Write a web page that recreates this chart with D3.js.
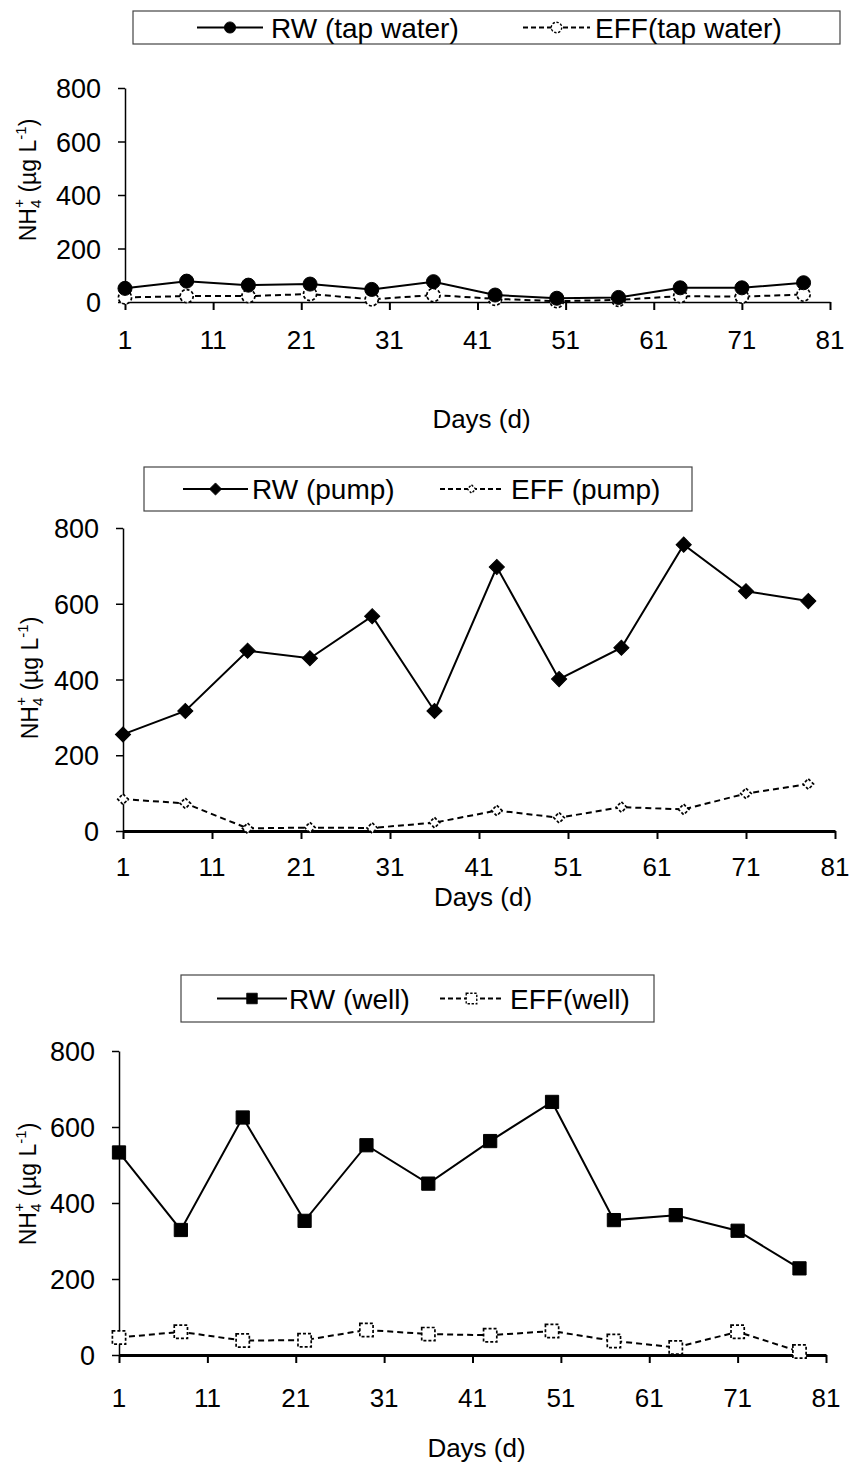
<!DOCTYPE html>
<html>
<head>
<meta charset="utf-8">
<script src="https://cdn.jsdelivr.net/npm/d3@7"></script>
<style>
  body { margin: 0; background: #fff; }
  text { font-family: "Liberation Sans", Arial, sans-serif; fill: #000; }
</style>
</head>
<body>
<div id="canvas"></div>
<script>
// sampling days (same for all three panels)
var days = [1, 8, 15, 22, 29, 36, 43, 50, 57, 64, 71, 78];
var xTicks = [1, 11, 21, 31, 41, 51, 61, 71, 81];
var yTicks = [0, 200, 400, 600, 800];

// NH4+ (ug/L)
var rwTap   = [51, 78, 63, 67, 47, 76, 26, 14, 17, 53, 53, 72];
var effTap  = [17, 22, 22, 30, 10, 26, 12, 3, 8, 22, 20, 28];
var rwPump  = [255, 317, 476, 456, 567, 317, 697, 401, 484, 756, 633, 607];
var effPump = [84, 73, 7, 9, 8, 22, 54, 35, 63, 57, 99, 124];
var rwWell  = [533, 329, 625, 353, 552, 451, 563, 666, 355, 368, 327, 228];
var effWell = [46, 61, 38, 39, 66, 55, 52, 63, 37, 20, 61, 9];

var width = 851, height = 1466;

var svg = d3.select("#canvas")
    .append("svg")
    .attr("width", width)
    .attr("height", height);

var panels = [
    {
        rw: rwTap, eff: effTap, marker: "circle",
        rwName: "RW (tap water)", effName: "EFF(tap water)",
        x0: 125, x1: 830, yBottom: 302, yTop: 88, baseWidth: 1.5,
        legend: { x: 133, y: 11, w: 707, h: 33, lineX: 197, lineX2: 263, textX: 271, dashX: 523, dashX2: 590, text2X: 595 },
        tickLabelY: 349, daysY: 428, yLabel: [28, 180]
    },
    {
        rw: rwPump, eff: effPump, marker: "diamond",
        rwName: "RW (pump)", effName: "EFF (pump)",
        x0: 123, x1: 835, yBottom: 831, yTop: 528, baseWidth: 3,
        legend: { x: 144, y: 467, w: 548, h: 44, lineX: 183, lineX2: 248, textX: 252, dashX: 440, dashX2: 503, text2X: 511 },
        tickLabelY: 876, daysY: 906, yLabel: [30, 678]
    },
    {
        rw: rwWell, eff: effWell, marker: "square",
        rwName: "RW (well)", effName: "EFF(well)",
        x0: 119, x1: 826, yBottom: 1355, yTop: 1051, baseWidth: 3,
        legend: { x: 181, y: 975, w: 473, h: 47, lineX: 217, lineX2: 287, textX: 289, dashX: 440, dashX2: 503, text2X: 510 },
        tickLabelY: 1407, daysY: 1457, yLabel: [28, 1184]
    }
];

function markerPath(type, big) {
    if (type == "circle") return d3.symbol().type(d3.symbolCircle).size(big ? 155 : 135)();
    if (type == "diamond") return d3.symbol().type(d3.symbolSquare).size(big ? 115 : 55)();
    return d3.symbol().type(d3.symbolSquare).size(175)();
}

function drawMarker(g, type, filled, x, y) {
    g.append("path")
        .attr("d", markerPath(type, filled))
        .attr("transform", "translate(" + x + "," + y + ")" + (type == "diamond" ? " rotate(45)" : ""))
        .style("fill", filled ? "#000" : "#fff")
        .style("stroke", "#000")
        .style("stroke-width", filled ? 1 : 1.7)
        .style("stroke-dasharray", filled ? null : "3,2");
}

panels.forEach(function(p) {
    var g = svg.append("g");

    var x = d3.scaleLinear().domain([1, 81]).range([p.x0, p.x1]);
    var y = d3.scaleLinear().domain([0, 800]).range([p.yBottom, p.yTop]);

    // y axis
    var yAxis = g.append("g")
        .attr("transform", "translate(" + p.x0 + ",0)")
        .call(d3.axisLeft(y).tickValues(yTicks).tickSize(7).tickPadding(17).tickSizeOuter(0));
    yAxis.selectAll("text").style("font-size", "27px").attr("dy", "0.36em");
    yAxis.selectAll("path, line").style("stroke", "#000").style("stroke-width", 1.5);

    // x axis
    var xAxis = g.append("g")
        .attr("transform", "translate(0," + p.yBottom + ")")
        .call(d3.axisBottom(x).tickValues(xTicks).tickSize(8).tickSizeOuter(0).tickFormat(""));
    xAxis.select("path").style("stroke", "#000").style("stroke-width", p.baseWidth);
    xAxis.selectAll("line").style("stroke", "#000").style("stroke-width", 2);

    g.selectAll(".xlab")
        .data(xTicks)
        .enter()
        .append("text")
        .attr("x", function(d) { return x(d); })
        .attr("y", p.tickLabelY)
        .attr("text-anchor", "middle")
        .style("font-size", "26px")
        .text(function(d) { return d; });

    g.append("text")
        .attr("x", (p.x0 + p.x1) / 2 + 4)
        .attr("y", p.daysY)
        .attr("text-anchor", "middle")
        .style("font-size", "26px")
        .text("Days (d)");

    // y label with sub/superscripts
    var yl = g.append("text")
        .attr("transform", "translate(" + (p.yLabel[0] + 8) + "," + p.yLabel[1] + ") rotate(-90)")
        .attr("text-anchor", "middle")
        .style("font-size", "23px");
    yl.append("tspan").text("NH");
    yl.append("tspan").attr("dy", 5).style("font-size", "15px").text("4");
    yl.append("tspan").attr("dx", -8).attr("dy", -17).style("font-size", "15px").text("+");
    yl.append("tspan").attr("dy", 12).text(" (\u00b5g L");
    yl.append("tspan").attr("dy", -10).style("font-size", "15px").text("-1");
    yl.append("tspan").attr("dy", 10).text(")");

    var line = d3.line()
        .x(function(d, i) { return x(days[i]); })
        .y(function(d) { return y(d); });

    g.append("path")
        .datum(p.rw)
        .attr("d", line)
        .style("fill", "none")
        .style("stroke", "#000")
        .style("stroke-width", 2);

    g.append("path")
        .datum(p.eff)
        .attr("d", line)
        .style("fill", "none")
        .style("stroke", "#000")
        .style("stroke-width", 2)
        .style("stroke-dasharray", "6,4");

    p.eff.forEach(function(d, i) { drawMarker(g, p.marker, false, x(days[i]), y(d)); });
    p.rw.forEach(function(d, i) { drawMarker(g, p.marker, true, x(days[i]), y(d)); });

    // legend
    var L = p.legend, cy = L.y + L.h / 2;
    g.append("rect")
        .attr("x", L.x).attr("y", L.y).attr("width", L.w).attr("height", L.h)
        .style("fill", "#fff").style("stroke", "#444").style("stroke-width", 1.2);
    g.append("line")
        .attr("x1", L.lineX).attr("x2", L.lineX2).attr("y1", cy).attr("y2", cy)
        .style("stroke", "#000").style("stroke-width", 2);
    g.append("line")
        .attr("x1", L.dashX).attr("x2", L.dashX2).attr("y1", cy).attr("y2", cy)
        .style("stroke", "#000").style("stroke-width", 2).style("stroke-dasharray", "5,3");
    var lg = g.append("g");
    drawMarker(lg, p.marker, true, (L.lineX + L.lineX2) / 2, cy);
    drawMarker(lg, p.marker, false, (L.dashX + L.dashX2) / 2, cy);
    lg.selectAll("path").attr("transform", function() {
        return d3.select(this).attr("transform") + " scale(0.8)";
    });
    g.append("text")
        .attr("x", L.textX).attr("y", cy).attr("dy", "0.36em")
        .style("font-size", "28px").text(p.rwName);
    g.append("text")
        .attr("x", L.text2X).attr("y", cy).attr("dy", "0.36em")
        .style("font-size", "28px").text(p.effName);
});
</script>
</body>
</html>
